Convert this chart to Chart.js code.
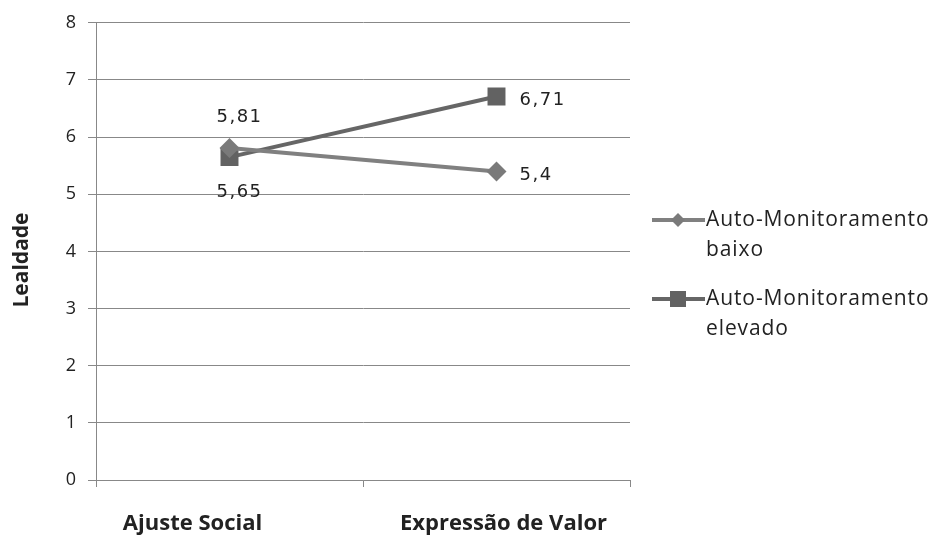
<!DOCTYPE html>
<html>
<head>
<meta charset="utf-8">
<script src="https://cdn.jsdelivr.net/npm/chart.js@4"></script>
<style>
  html, body { margin: 0; padding: 0; background: #fff; }
  #wrap { width: 931px; height: 538px; position: relative; }
</style>
</head>
<body>
<div id="wrap"><canvas id="c" width="931" height="538"></canvas></div>
<script>
// Categories and series
const categories = ['Ajuste Social', 'Expressão de Valor'];
const baixo = [5.81, 5.4];
const elevado = [5.65, 6.71];
const seriesNames = [['Auto-Monitoramento', 'baixo'], ['Auto-Monitoramento', 'elevado']];
const yTicks = [0, 1, 2, 3, 4, 5, 6, 7, 8];
const yTitle = 'Lealdade';

const FONT = "'Open Sans', 'DejaVu Sans', sans-serif";
const NUM_FONT = "'DejaVu Sans', sans-serif";
const fmt = v => String(v).replace('.', ',');

// Value labels next to each point
const valueLabels = {
  id: 'valueLabels',
  afterDatasetsDraw(chart) {
    const ctx = chart.ctx;
    ctx.save();
    ctx.font = '18px ' + NUM_FONT;
    ctx.letterSpacing = '1.5px';
    ctx.fillStyle = '#222';
    ctx.textBaseline = 'middle';
    chart.data.datasets.forEach((ds, di) => {
      const meta = chart.getDatasetMeta(di);
      meta.data.forEach((pt, i) => {
        const v = ds.data[i];
        if (i === 0) {
          ctx.textAlign = 'center';
          const dy = di === 0 ? -31 : 35;
          ctx.fillText(fmt(v), pt.x + 10, pt.y + dy);
        } else {
          ctx.textAlign = 'left';
          ctx.fillText(fmt(v), pt.x + 23, pt.y + 4);
        }
      });
    });
    ctx.restore();
  }
};

// Category labels under the x axis; the first one sits left of its centre
const categoryLabels = {
  id: 'categoryLabels',
  afterDraw(chart) {
    const ctx = chart.ctx;
    const xs = chart.scales.x;
    const shift = [-37, 7];
    ctx.save();
    ctx.font = 'bold 22px ' + FONT;
    ctx.fillStyle = '#222';
    ctx.textAlign = 'center';
    ctx.textBaseline = 'middle';
    categories.forEach((c, i) => {
      ctx.fillText(c, xs.getPixelForValue(i) + shift[i], 524);
    });
    ctx.restore();
  }
};

// Rotated y-axis title
const axisTitle = {
  id: 'axisTitle',
  afterDraw(chart) {
    const ctx = chart.ctx;
    ctx.save();
    ctx.translate(22, 260);
    ctx.rotate(-Math.PI / 2);
    ctx.font = 'bold 21px ' + FONT;
    ctx.fillStyle = '#222';
    ctx.textAlign = 'center';
    ctx.textBaseline = 'middle';
    ctx.fillText(yTitle, 0, 0);
    ctx.restore();
  }
};

// Two-line legend on the right
const sideLegend = {
  id: 'sideLegend',
  afterDraw(chart) {
    const ctx = chart.ctx;
    ctx.save();
    const rows = [220, 299];
    chart.data.datasets.forEach((ds, di) => {
      const y = rows[di];
      ctx.strokeStyle = ds.borderColor;
      ctx.lineWidth = 4;
      ctx.beginPath();
      ctx.moveTo(652, y);
      ctx.lineTo(705, y);
      ctx.stroke();
      ctx.fillStyle = ds.pointBackgroundColor;
      ctx.beginPath();
      if (ds.pointStyle === 'rectRot') {
        ctx.moveTo(678, y - 7); ctx.lineTo(685, y); ctx.lineTo(678, y + 7); ctx.lineTo(671, y);
        ctx.closePath();
      } else {
        ctx.rect(670, y - 8, 16, 16);
      }
      ctx.fill();
      ctx.fillStyle = '#222';
      ctx.font = '21px ' + FONT;
      ctx.letterSpacing = '0.9px';
      ctx.textAlign = 'left';
      ctx.textBaseline = 'middle';
      seriesNames[di].forEach((line, li) => {
        ctx.fillText(line, 706, y + li * 30);
      });
    });
    ctx.restore();
  }
};

new Chart(document.getElementById('c'), {
  type: 'line',
  data: {
    labels: categories,
    datasets: [
      {
        label: seriesNames[0].join(' '),
        data: baixo,
        borderColor: '#808080',
        backgroundColor: '#7a7a7a',
        pointBackgroundColor: '#7a7a7a',
        pointBorderWidth: 0,
        pointStyle: 'rectRot',
        pointRadius: 10,
        borderWidth: 4
      },
      {
        label: seriesNames[1].join(' '),
        data: elevado,
        borderColor: '#666666',
        backgroundColor: '#626262',
        pointBackgroundColor: '#626262',
        pointBorderWidth: 0,
        pointStyle: 'rect',
        pointRadius: 12.7,
        borderWidth: 4
      }
    ]
  },
  options: {
    responsive: false,
    animation: false,
    events: [],
    layout: { padding: { left: 0, right: 301, top: 20, bottom: 0 } },
    plugins: { legend: { display: false }, tooltip: { enabled: false } },
    scales: {
      x: {
        offset: true,
        grid: { offset: true, drawOnChartArea: false, drawTicks: true, tickLength: 7, color: '#888', lineWidth: 1 },
        border: { color: '#888', width: 1 },
        ticks: { display: false },
        afterFit(scale) { scale.height = 58; }
      },
      y: {
        min: 0, max: 8,
        afterBuildTicks(scale) { scale.ticks = yTicks.map(v => ({ value: v })); },
        grid: { color: '#888', lineWidth: 1, tickLength: 8 },
        border: { color: '#888', width: 1 },
        ticks: { color: '#222', font: { family: FONT, size: 18 }, padding: 12 },
        afterFit(scale) { scale.width = 96; }
      }
    }
  },
  plugins: [valueLabels, categoryLabels, axisTitle, sideLegend]
});
</script>
</body>
</html>
